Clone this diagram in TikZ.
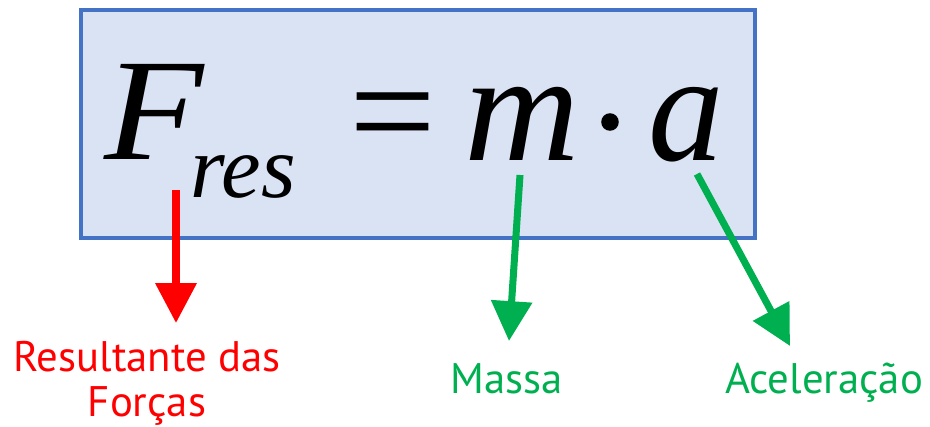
\documentclass[tikz,border=0pt]{standalone}
\usepackage{fontspec}
\setmainfont{PT Sans}
\newfontfamily\eqfont{Liberation Serif}
\usetikzlibrary{arrows.meta}

\definecolor{boxfill}{HTML}{DAE3F3}
\definecolor{boxline}{HTML}{4472C4}
\definecolor{massgreen}{HTML}{00B050}

\tikzset{
  sym/.style={inner sep=0pt, anchor=base west, font=\eqfont\fontsize{124}{124}\selectfont\itshape},
  sub/.style={inner sep=0pt, anchor=base west, font=\eqfont\fontsize{76}{76}\selectfont\itshape},
  lbl/.style={inner sep=0pt, font=\fontsize{36.5}{38.4}\selectfont},
  pointer/.style={line width=6pt, -{Triangle[length=34pt, width=34pt]}},
}

\begin{document}
\begin{tikzpicture}[x=0.03cm, y=-0.03cm]
\useasboundingbox (0,0) rectangle (930,427);
\draw[boxline, fill=boxfill, line width=2.6pt] (81,10) rectangle (755,238);

\node[sym] (force) at (104,160) {\scalebox{1.12}[1]{F}};
\node[sub] (res) at (190,198) {res};
\node[sym, font=\eqfont\fontsize{124}{124}\selectfont] (equals) at (349,163) {\scalebox{1.06}[1.05]{=}};
\node[sym] (mass) at (464,161) {\scalebox{1.1}[1.07]{m}};
\node[circle, fill, inner sep=0pt, minimum size=15pt] (dot) at (610,122) {};
\node[sym] (accel) at (648,161) {\scalebox{1.04}[1.07]{a}};

\node[lbl, red, align=center, anchor=north] (resultante) at (147,341) {Resultante das\\Forças};
\node[lbl, massgreen, anchor=base] (massa) at (507,393) {Massa};
\node[lbl, massgreen, anchor=base] (aceleracao) at (824,393) {Aceleração};

\coordinate (ftail) at (176,190);
\coordinate (ftip) at (176,323);
\coordinate (mtail) at (520,175);
\coordinate (mtip) at (509,341);
\coordinate (atail) at (697,174);
\coordinate (atip) at (790,346);

\draw[pointer, red] (ftail) -- (ftip);
\draw[pointer, massgreen] (mtail) -- (mtip);
\draw[pointer, massgreen] (atail) -- (atip);
\end{tikzpicture}
\end{document}
